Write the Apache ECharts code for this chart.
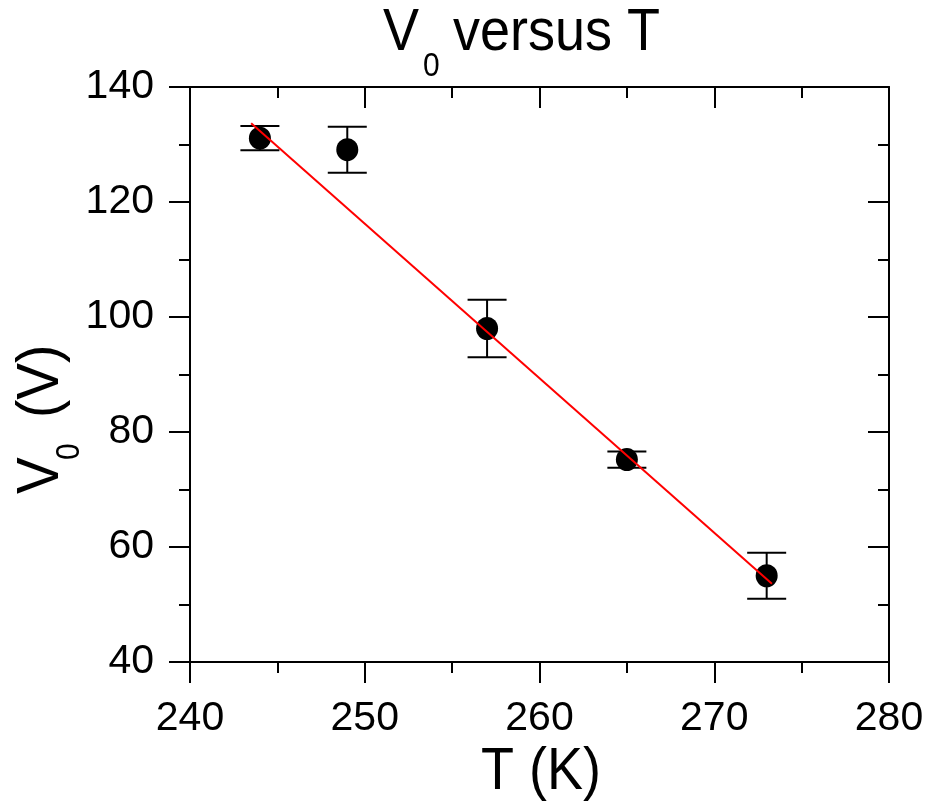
<!DOCTYPE html>
<html>
<head>
<meta charset="utf-8">
<title>V0 versus T</title>
<script src="https://cdn.jsdelivr.net/npm/echarts@6/dist/echarts.min.js"></script>
<style>
  html, body { margin: 0; padding: 0; background: #ffffff; }
  #chart { width: 932px; height: 808px; }
</style>
</head>
<body>
<div id="chart"></div>
<script>
// Measured threshold voltage V0 at each temperature, with its uncertainty
const temperatures = [244, 249, 257, 265, 273];
const voltages = [131.1, 129.1, 98.0, 75.2, 55.0];
const voltageErrors = [2.1, 4.0, 5.0, 1.4, 4.0];

// Linear fit drawn between its two end points
const fitT = [243.5, 273.3];
const fitV = [133.7, 53.6];

// Axis ranges and tick steps
const xRange = [240, 280];
const xStep = 10;
const yRange = [40, 140];
const yStep = 20;

const FONT = "'Liberation Sans', Arial, Helvetica, sans-serif";
const INK = '#000000';
// Glyphs in the labels are drawn slightly taller than the font's natural shape
const TALL = 1.08;

const chart = echarts.init(document.getElementById('chart'), null, { renderer: 'canvas' });

function axisBase(inside) {
  return {
    type: 'value',
    axisLine: { show: true, onZero: false, lineStyle: { color: INK, width: 2 } },
    axisTick: { show: true, inside: inside, length: 21, lineStyle: { color: INK, width: 2 } },
    minorTick: { show: true, splitNumber: 2, length: 11, lineStyle: { color: INK, width: 2 } },
    splitLine: { show: false },
    minorSplitLine: { show: false }
  };
}

const xBottom = Object.assign(axisBase(false), {
  position: 'bottom', min: xRange[0], max: xRange[1], interval: xStep,
  axisLabel: { show: true, color: INK, fontSize: 41, fontFamily: FONT, margin: 36 }
});
const xTop = Object.assign(axisBase(true), {
  position: 'top', min: xRange[0], max: xRange[1], interval: xStep,
  axisLabel: { show: false }
});
const yLeft = Object.assign(axisBase(false), {
  position: 'left', min: yRange[0], max: yRange[1], interval: yStep,
  axisLabel: { show: true, color: INK, fontSize: 41, fontFamily: FONT, margin: 36 }
});
const yRight = Object.assign(axisBase(true), {
  position: 'right', min: yRange[0], max: yRange[1], interval: yStep,
  axisLabel: { show: false }
});

const pointData = temperatures.map((t, i) => [t, voltages[i]]);
const errorData = temperatures.map((t, i) => [t, voltages[i] - voltageErrors[i], voltages[i] + voltageErrors[i]]);
const fitData = fitT.map((t, i) => [t, fitV[i]]);

function renderErrorBar(params, api) {
  const lo = api.coord([api.value(0), api.value(1)]);
  const hi = api.coord([api.value(0), api.value(2)]);
  const half = 19.5;
  const style = { stroke: INK, lineWidth: 2, fill: null };
  return {
    type: 'group',
    children: [
      { type: 'line', shape: { x1: lo[0], y1: lo[1], x2: hi[0], y2: hi[1] }, style: style },
      { type: 'line', shape: { x1: lo[0] - half, y1: lo[1], x2: lo[0] + half, y2: lo[1] }, style: style },
      { type: 'line', shape: { x1: hi[0] - half, y1: hi[1], x2: hi[0] + half, y2: hi[1] }, style: style }
    ]
  };
}

function label(text, x, y, size) {
  return {
    type: 'text', x: x, y: y, scaleY: TALL,
    style: { text: text, fontSize: size, fontFamily: FONT, fill: INK, align: 'left', verticalAlign: 'middle' }
  };
}

const option = {
  backgroundColor: '#ffffff',
  animation: false,
  grid: { left: 190, right: 43, top: 87, bottom: 146, containLabel: false },
  xAxis: [xBottom, xTop],
  yAxis: [yLeft, yRight],
  series: [
    {
      name: 'error',
      type: 'custom',
      xAxisIndex: 0, yAxisIndex: 0,
      renderItem: renderErrorBar,
      encode: { x: 0, y: [1, 2] },
      data: errorData,
      z: 2
    },
    {
      name: 'V0',
      type: 'scatter',
      xAxisIndex: 0, yAxisIndex: 0,
      symbol: 'circle',
      symbolSize: [22, 23],
      itemStyle: { color: INK, opacity: 1 },
      data: pointData,
      z: 3
    },
    {
      name: 'fit',
      type: 'line',
      xAxisIndex: 0, yAxisIndex: 0,
      showSymbol: false,
      symbol: 'none',
      lineStyle: { color: '#ff0000', width: 2 },
      data: fitData,
      z: 4
    }
  ],
  graphic: [
    // Title: V with subscript 0, then "versus T"
    label('V', 383, 34, 54),
    label('0', 423, 67, 30),
    label('versus T', 453, 34, 54),
    // X axis name
    label('T (K)', 481, 773, 54),
    // Y axis name, rotated to read bottom-to-top
    {
      type: 'group', x: 0, y: 0, rotation: Math.PI / 2,
      children: [
        label('V', -494, 42, 55),
        label('0', -460, 70, 30),
        label('(V)', -418, 42, 55)
      ]
    }
  ]
};

chart.setOption(option);
</script>
</body>
</html>
